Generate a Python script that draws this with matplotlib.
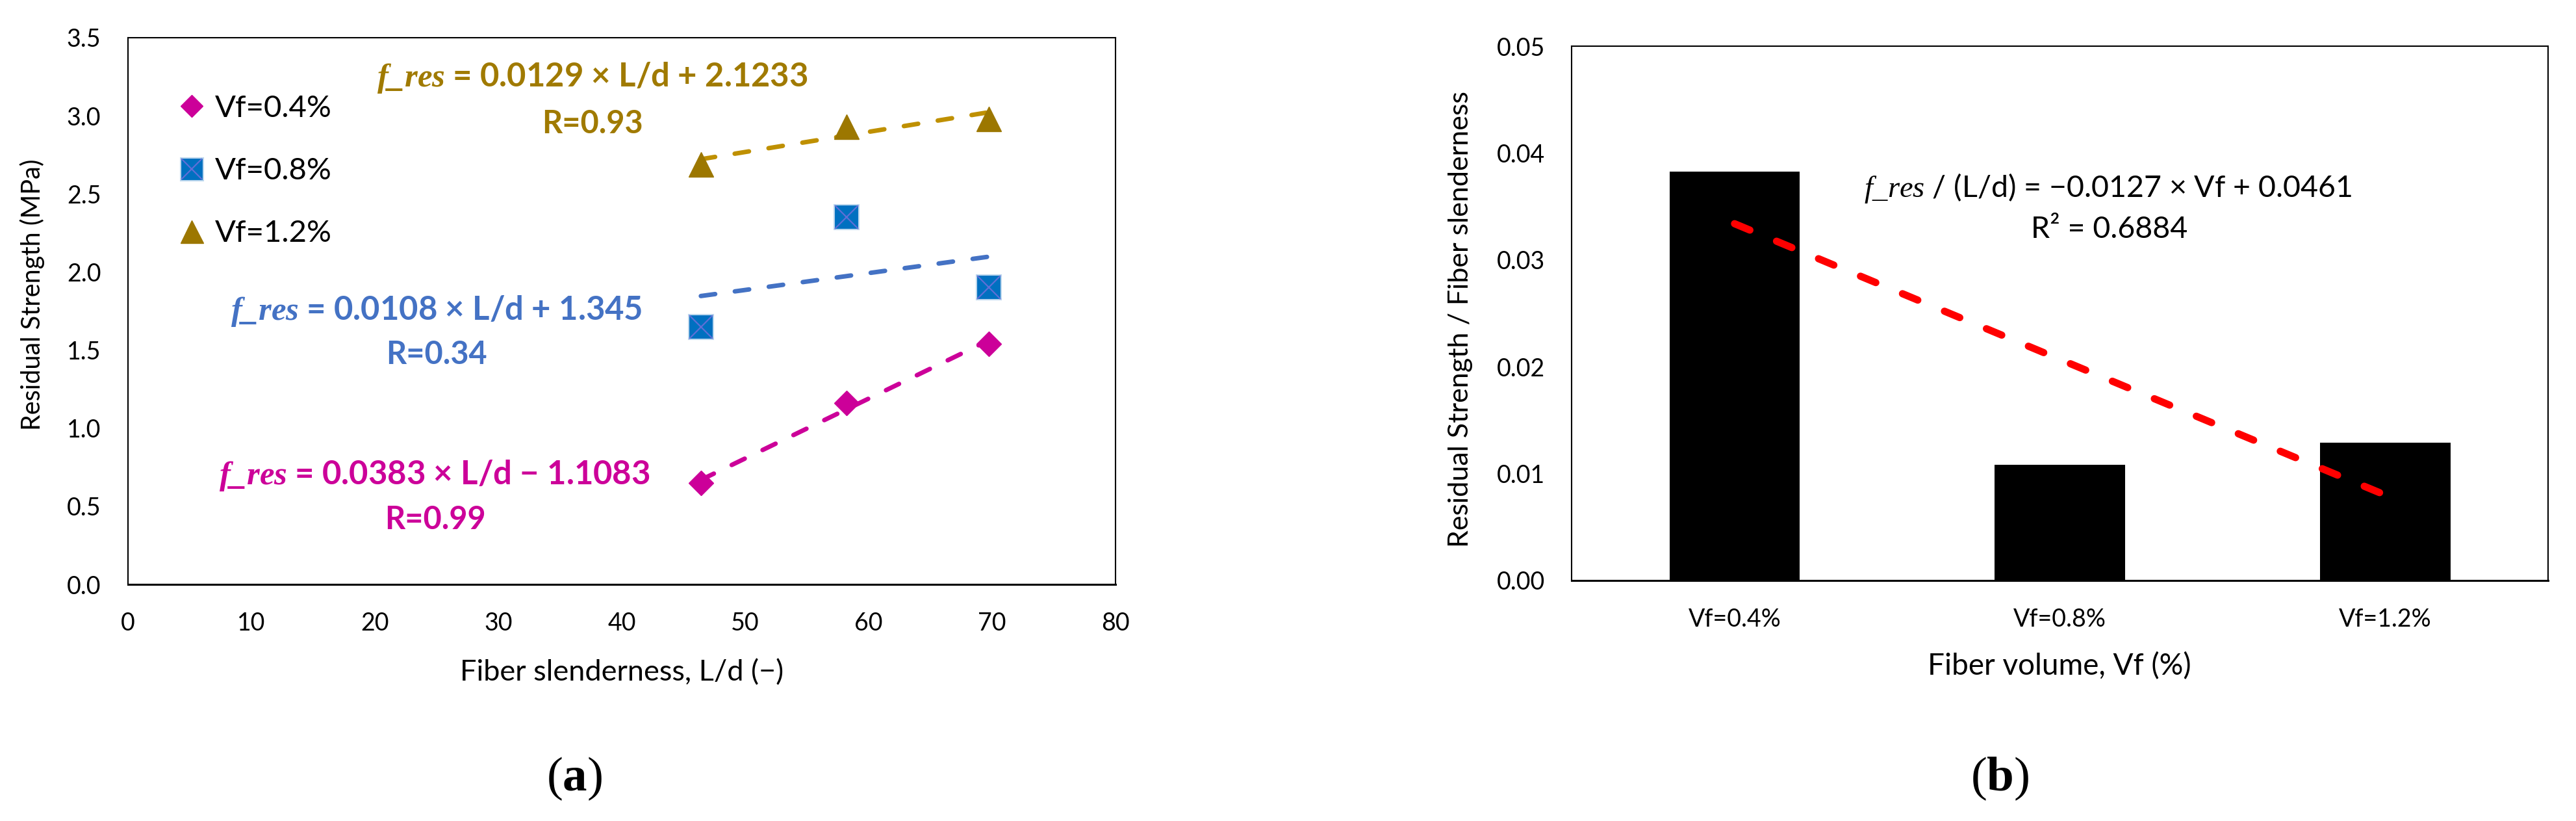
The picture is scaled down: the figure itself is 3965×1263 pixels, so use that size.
import matplotlib
matplotlib.use("Agg")
import matplotlib.pyplot as plt
from matplotlib.ticker import FormatStrFormatter

plt.rcParams['font.family'] = ['Lato', 'DejaVu Sans']
plt.rcParams['mathtext.fontset'] = 'custom'
plt.rcParams['mathtext.rm'] = 'Liberation Serif'
plt.rcParams['mathtext.it'] = 'Liberation Serif:italic'
plt.rcParams['mathtext.bf'] = 'Liberation Serif:bold'
plt.rcParams['mathtext.bfit'] = 'Liberation Serif:italic:bold'

# ---------------- data ----------------
ld = [46.4, 58.2, 69.7]                      # fiber slenderness L/d
res_04 = [0.65, 1.16, 1.54]                  # Vf = 0.4 %
res_08 = [1.65, 2.35, 1.90]                  # Vf = 0.8 %
res_12 = [2.69, 2.93, 2.98]                  # Vf = 1.2 %
series_labels = ['Vf=0.4%', 'Vf=0.8%', 'Vf=1.2%']
fit_slopes = [0.0383, 0.0108, 0.0129]
fit_intercepts = [-1.1083, 1.345, 2.1233]
fit_r = [0.99, 0.34, 0.93]

vf_labels = ['Vf=0.4%', 'Vf=0.8%', 'Vf=1.2%']
ratio = [0.0383, 0.0108, 0.0129]             # residual strength / slenderness
vf_index = [1, 2, 3]
b_slope = -0.0127
b_intercept = 0.0461
b_r2 = 0.6884

c_pink = '#CC0099'
c_blue_mk = '#0070C0'
c_blue_ln = '#4472C4'
c_gold_mk = '#9C7700'
c_gold_ln = '#BF9000'
c_gold_tx = '#A07A00'

fig = plt.figure(figsize=(39.65, 12.63), dpi=100)
axa = fig.add_axes([0.0497, 0.2882, 0.3834, 0.6659])
axb = fig.add_axes([0.6102, 0.2930, 0.3789, 0.6505])

# ---------------- panel (a) ----------------
ln_kw = dict(lw=5, dash_capstyle='round')
for s, b, col in zip(fit_slopes, fit_intercepts, [c_pink, c_blue_ln, c_gold_ln]):
    xs = [min(ld), max(ld)]
    ys = [s * x + b for x in xs]
    line, = axa.plot(xs, ys, color=col, **ln_kw)
    line.set_dashes((3.2, 4.4))

h1, = axa.plot(ld, res_04, ls='none', marker='D', ms=19.5, color=c_pink, mec=c_pink, zorder=5)
h2, = axa.plot(ld, res_08, ls='none', marker='s', ms=28, color=c_blue_mk, mec='#BDD7EE', mew=1.5, zorder=5)
h2x, = axa.plot(ld, res_08, ls='none', marker='x', ms=26, mec='#5E6FD6', mew=1.6, zorder=6)
h3, = axa.plot(ld, res_12, ls='none', marker='^', ms=28, color=c_gold_mk, mec=c_gold_mk, zorder=5)

axa.legend([h1, (h2, h2x), h3], series_labels, loc='center left',
           bbox_to_anchor=(0.052, 0.756), frameon=False, fontsize=34,
           labelspacing=1.15, handlelength=0.8, handletextpad=0.35,
           borderpad=0, borderaxespad=0, markerscale=0.9)

axa.set_xlim(0, 80)
axa.set_ylim(0, 3.5)
axa.set_xticks(range(0, 81, 10))
axa.set_yticks([i * 0.5 for i in range(8)])
axa.yaxis.set_major_formatter(FormatStrFormatter('%.1f'))
axa.tick_params(length=0, labelsize=27, pad=30)
for sp in axa.spines.values():
    sp.set_linewidth(1.5)
axa.spines['bottom'].set_linewidth(2.2)

axa.set_xlabel('Fiber slenderness, L/d (\u2212)', fontsize=32.5)
axa.xaxis.set_label_coords(0.5, -0.1617)
axa.xaxis.label.set_verticalalignment('center')
axa.set_ylabel('Residual Strength (MPa)', fontsize=28.5)
axa.yaxis.set_label_coords(-0.0967, 0.530)
axa.yaxis.label.set_verticalalignment('center')


def eq_text(s, b):
    sign = '+' if b >= 0 else '\u2212'
    return r'$\mathbfit{f\_res}$' + f' = {s} \u00d7 L/d {sign} {abs(b)}'


eq_pos = [(24.8, 0.699, 24.9, 0.416), (25.0, 1.752, 25.0, 1.473), (37.6, 3.242, 37.6, 2.95)]
for s, b, r, col, (ex, ey, rx, ry) in zip(fit_slopes, fit_intercepts, fit_r,
                                         [c_pink, c_blue_ln, c_gold_tx], eq_pos):
    axa.text(ex, ey, eq_text(s, b), color=col, fontsize=36.5, fontweight='bold',
             ha='center', va='center')
    axa.text(rx, ry, f'R={r}', color=col, fontsize=35, fontweight='bold',
             ha='center', va='center')

# ---------------- panel (b) ----------------
xpos = list(range(len(vf_labels)))
axb.bar(xpos, ratio, width=0.4, color='black', zorder=2)
fit_y = [b_slope * v + b_intercept for v in vf_index]
rl, = axb.plot(xpos, fit_y, color='#FF0000', lw=8, dash_capstyle='round', zorder=3)
rl.set_dashes((2.3, 4.0))

axb.set_xlim(-0.5, 2.5)
axb.set_ylim(0, 0.05)
axb.set_xticks(xpos)
axb.set_xticklabels(vf_labels)
axb.set_yticks([0, 0.01, 0.02, 0.03, 0.04, 0.05])
axb.yaxis.set_major_formatter(FormatStrFormatter('%.2f'))
axb.tick_params(length=0, labelsize=27, pad=30)
for sp in axb.spines.values():
    sp.set_linewidth(1.5)
axb.spines['bottom'].set_linewidth(2.2)

axb.set_xlabel('Fiber volume, Vf (%)', fontsize=33)
axb.xaxis.set_label_coords(0.4995, -0.1606)
axb.xaxis.label.set_verticalalignment('center')
axb.set_ylabel('Residual Strength / Fiber slenderness', fontsize=31)
axb.yaxis.set_label_coords(-0.1141, 0.489)
axb.yaxis.label.set_verticalalignment('center')

axb.text(1.148, 0.0367,
         r'$\mathit{f\_res}$' + f' / (L/d) = \u2212{abs(b_slope)} \u00d7 Vf + {b_intercept}',
         fontsize=33.5, ha='center', va='center')
axb.text(1.152, 0.03287, f'R\u00b2 = {b_r2}', fontsize=33.5, ha='center', va='center')

# ---------------- panel captions ----------------
fig.text(0.2230, 0.0515, r'($\mathbf{a}$)', family='Liberation Serif', fontsize=54,
         ha='center', va='center')
fig.text(0.7763, 0.0515, r'($\mathbf{b}$)', family='Liberation Serif', fontsize=54,
         ha='center', va='center')

fig.savefig('out.png', dpi=100)
